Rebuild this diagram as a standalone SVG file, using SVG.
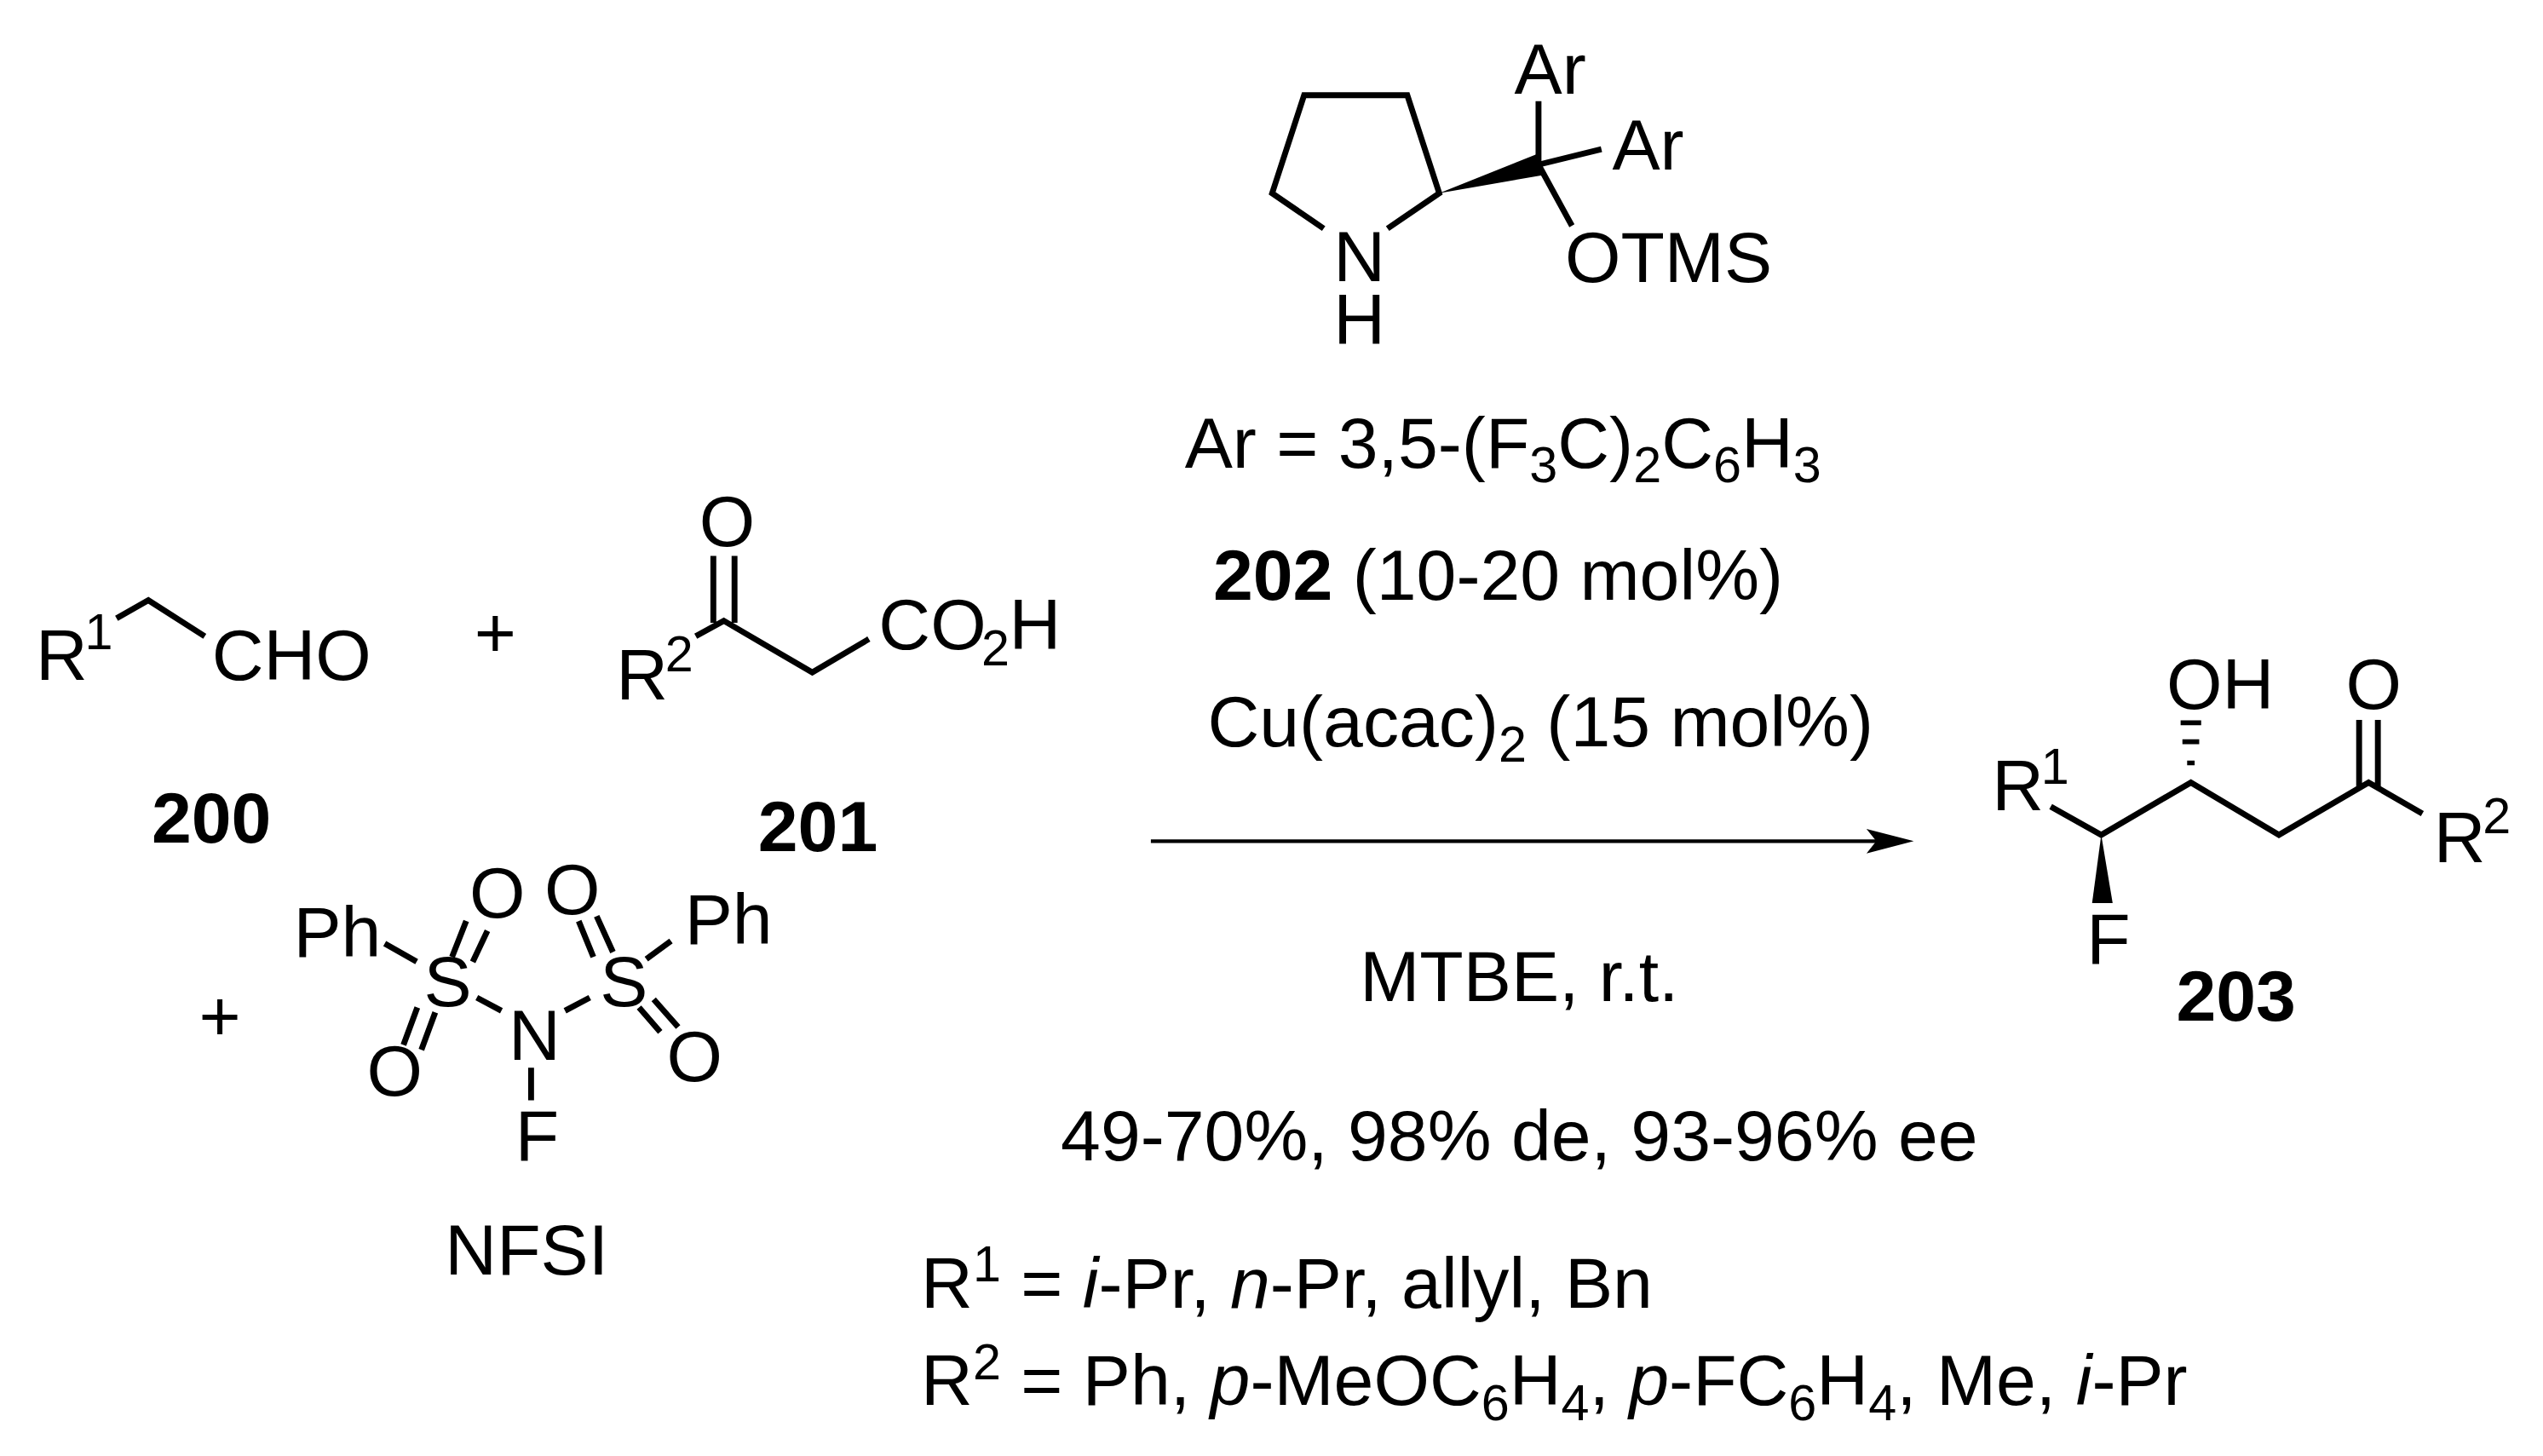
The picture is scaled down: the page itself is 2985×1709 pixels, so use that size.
<svg xmlns="http://www.w3.org/2000/svg" width="2985" height="1709" viewBox="0 0 2985 1709">
<style>
text{font-family:"Liberation Sans",Arial,sans-serif;font-size:44px;fill:#000}
.b{font-weight:bold}
.s{font-size:31px}
.bd{stroke:#000;stroke-width:3.6;fill:none;stroke-linecap:butt;stroke-linejoin:miter}
</style>
<rect width="2985" height="1709" fill="#fff"/>
<g transform="scale(1.91346)">
<g id="c200">
<text x="22" y="417">R</text><text class="s" x="52" y="398">1</text>
<path class="bd" d="M71.5,379.3L91,368.2L125.6,390.3"/>
<text x="130" y="417">CHO</text>
<text class="b" x="93" y="517">200</text>
</g>
<g id="plus1"><text x="291" y="403">+</text></g>
<g id="c201">
<text x="429" y="335">O</text>
<path class="bd" d="M437.6,341L437.6,382M450.6,341L450.6,382M426.8,390.3L444,380.8L498.3,412.5L533,392"/>
<text x="378" y="429">R</text><text class="s" x="408" y="412">2</text>
<text x="539" y="398">CO</text><text class="s" x="602" y="408">2</text><text x="619" y="398">H</text>
<text class="b" x="465" y="522">201</text>
</g>
<g id="plus2"><text x="122" y="638">+</text></g>
<g id="nfsi">
<text x="180" y="587">Ph</text>
<text x="260" y="617">S</text>
<text x="312" y="650">N</text>
<text x="316" y="712">F</text>
<text x="368" y="617">S</text>
<text x="288" y="563">O</text>
<text x="334" y="561">O</text>
<text x="420" y="579">Ph</text>
<text x="225" y="672">O</text>
<text x="409" y="663">O</text>
<path class="bd" d="M236,578.8L255.6,589.9M292.5,612L307.6,620M346.6,620L361.8,612M396.5,588.3L411.6,577.2M325.8,655L325.8,675M286,565L277.3,587M299,571L290,590M355,565L364,587M366,562L376,584M256,618L247.5,641M267,621L258.5,644M392,618L405,633M401,613L416,630"/>
<text x="273" y="782">NFSI</text>
</g>
<g id="c202">
<path class="bd" d="M812,140.2L780.4,118.5L800,58.4L863.3,58.4L882.9,118.5L851.2,140.2M943.8,101L943.8,62M943.8,101L982.4,91.5M943.8,101L964.3,138.5"/>
<path d="M882.9,118.5L943,94.5L946,107.5z" fill="#000"/>
<text x="818" y="172.5">N</text>
<text x="818" y="211">H</text>
<text x="929" y="57.5">Ar</text>
<text x="989" y="104">Ar</text>
<text x="960" y="173">OTMS</text>
</g>
<g id="conditions">
<text x="922" y="287" text-anchor="middle">Ar = 3,5-(F<tspan class="s" dy="9">3</tspan><tspan dy="-9">C)</tspan><tspan class="s" dy="9">2</tspan><tspan dy="-9">C</tspan><tspan class="s" dy="9">6</tspan><tspan dy="-9">H</tspan><tspan class="s" dy="9">3</tspan></text>
<text x="919" y="368" text-anchor="middle"><tspan class="b">202</tspan> (10-20 mol%)</text>
<text x="945" y="458" text-anchor="middle">Cu(acac)<tspan class="s" dy="9">2</tspan><tspan dy="-9"> (15 mol%)</tspan></text>
<text x="932" y="614" text-anchor="middle">MTBE, r.t.</text>
<text x="932" y="712" text-anchor="middle">49-70%, 98% de, 93-96% ee</text>
<text x="565" y="802">R<tspan class="s" dy="-16">1</tspan><tspan dy="16"> = </tspan><tspan font-style="italic">i</tspan>-Pr, <tspan font-style="italic">n</tspan>-Pr, allyl, Bn</text>
<text x="565" y="862">R<tspan class="s" dy="-16">2</tspan><tspan dy="16"> = Ph, </tspan><tspan font-style="italic">p</tspan>-MeOC<tspan class="s" dy="9">6</tspan><tspan dy="-9">H</tspan><tspan class="s" dy="9">4</tspan><tspan dy="-9">, </tspan><tspan font-style="italic">p</tspan>-FC<tspan class="s" dy="9">6</tspan><tspan dy="-9">H</tspan><tspan class="s" dy="9">4</tspan><tspan dy="-9">, Me, </tspan><tspan font-style="italic">i</tspan>-Pr</text>
</g>
<g id="connectors">
<line x1="706" y1="516" x2="1155" y2="516" stroke="#000" stroke-width="2.2"/>
<path d="M1174,516L1145,508.5L1151,516L1145,523.5z" fill="#000"/>
</g>
<g id="c203">
<text x="1222" y="497">R</text><text class="s" x="1252" y="481">1</text>
<path class="bd" d="M1258,494.8L1289,512.2L1344,480L1398,512.2L1453,480L1486,499.1M1447.2,441.6L1447.2,483M1458.7,441.6L1458.7,483"/>
<path d="M1289,512.2L1283.4,554L1296,554z" fill="#000"/>
<path stroke="#000" stroke-width="3" d="M1337.7,443.4h12.6M1338.8,455h10.3M1341.7,468h4.6"/>
<text x="1329" y="435">OH</text>
<text x="1439" y="435">O</text>
<text x="1493" y="529">R</text><text class="s" x="1523" y="511">2</text>
<text x="1280" y="591">F</text>
<text class="b" x="1335" y="626">203</text>
</g>
</g>
</svg>
